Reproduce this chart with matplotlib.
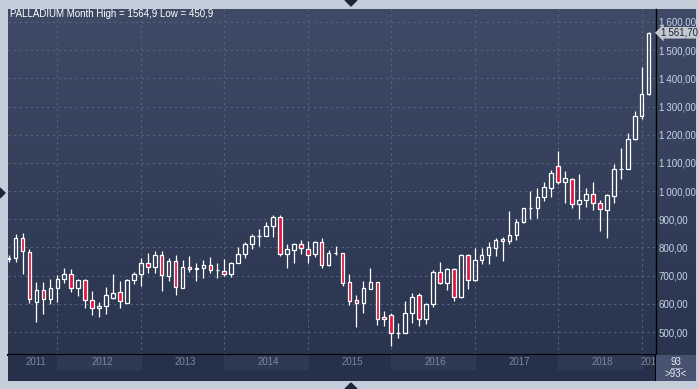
import numpy as np
import matplotlib
matplotlib.use("Agg")
import matplotlib.pyplot as plt
from matplotlib.colors import LinearSegmentedColormap
from matplotlib.patches import Polygon

plt.rcParams['font.family'] = ['Liberation Sans', 'DejaVu Sans']

W, H = 698, 389

# monthly candles, Jun 2011 .. Feb 2019 (93 bars)
opens = [758, 761, 832, 783, 607, 648, 616, 655, 687, 705, 655, 684, 612, 584, 591, 622,
         641, 604, 683, 705, 744, 729, 772, 700, 751, 657, 729, 722, 726, 736, 719, 716,
         705, 744, 776, 811, 839, 842, 875, 907, 776, 792, 811, 795, 776, 818, 736, 779,
         779, 676, 612, 602, 653, 676, 553, 560, 495, 495, 566, 630, 545, 598, 713, 673,
         723, 623, 773, 683, 754, 772, 798, 829, 822, 843, 889, 939, 939, 980, 1010, 1088,
         1031, 1042, 953, 967, 988, 956, 932, 981, 1077, 1079, 1184, 1266, 1343]
highs = [775, 848, 852, 794, 678, 678, 688, 702, 727, 722, 689, 689, 645, 606, 660, 706,
         680, 689, 714, 761, 779, 786, 787, 761, 772, 755, 770, 744, 755, 765, 745, 759,
         748, 800, 819, 848, 865, 890, 914, 915, 811, 815, 825, 822, 823, 832, 791, 805,
         781, 706, 631, 682, 727, 678, 574, 567, 531, 611, 639, 637, 602, 720, 749, 727,
         727, 777, 777, 798, 798, 819, 833, 836, 929, 900, 941, 1000, 1010, 1033, 1075, 1142,
         1071, 1045, 1061, 1011, 1032, 968, 988, 1096, 1152, 1205, 1285, 1440, 1564.9]
lows = [750, 749, 706, 604, 536, 565, 600, 607, 675, 641, 629, 584, 561, 554, 565, 618,
        586, 604, 671, 663, 710, 710, 646, 680, 630, 657, 714, 682, 693, 709, 693, 697,
        696, 744, 763, 794, 805, 842, 838, 768, 728, 746, 776, 745, 767, 726, 733, 772,
        664, 597, 519, 568, 651, 525, 522, 450.9, 480, 495, 533, 522, 528, 590, 669, 650,
        611, 619, 653, 681, 742, 742, 770, 752, 812, 827, 888, 901, 905, 964, 980, 1024,
        959, 939, 900, 945, 933, 859, 834, 957, 1044, 1077, 1181, 1257, 1340]
closes = [762, 832, 787, 616, 648, 616, 655, 687, 705, 655, 684, 612, 584, 592, 630, 637,
          609, 684, 705, 744, 729, 772, 701, 751, 658, 729, 722, 727, 736, 719, 720, 705,
          744, 776, 811, 839, 842, 875, 907, 776, 793, 811, 797, 772, 819, 736, 779, 780,
          675, 611, 602, 655, 676, 545, 545, 497, 498, 566, 623, 545, 598, 713, 673, 723,
          623, 773, 683, 755, 773, 800, 828, 822, 843, 889, 939, 940, 980, 1013, 1063, 1031,
          1045, 953, 967, 988, 956, 935, 985, 1077, 1080, 1184, 1266, 1343, 1561.7]

years = ['2011', '2012', '2013', '2014', '2015', '2016', '2017', '2018', '2019']
jan_index = [-5, 7, 19, 31, 43, 55, 67, 79, 91]
price_ticks = [500, 600, 700, 800, 900, 1000, 1100, 1200, 1300, 1400, 1500, 1600]
title = "PALLADIUM Month High = 1564,9 Low = 450,9"
last_price = 1561.70
bar_count = "93"

XMIN, XMAX = -0.09, 93.06
YMIN, YMAX = 418.4, 1646.1


def fmt(v):
    s = f"{v:,.2f}"
    return s.replace(",", "\u2009").replace(".", ",")


fig = plt.figure(figsize=(W / 100, H / 100), dpi=100, facecolor='#c4cedb')


def px_axes(x0, y0, x1, y1):
    return fig.add_axes([x0 / W, 1 - y1 / H, (x1 - x0) / W, (y1 - y0) / H])


# gradient panel behind price area and right scale
bg = px_axes(8, 9, 696, 355)
cmap = LinearSegmentedColormap.from_list('bg', ['#3f4b66', '#29344f'])
bg.imshow(np.linspace(0, 1, 256).reshape(-1, 1), cmap=cmap, aspect='auto',
          extent=[0, 1, 0, 1], origin='upper')
bg.axis('off')

ax = px_axes(8, 9, 656, 355)
ax.set_facecolor('none')
ax.set_xlim(XMIN, XMAX)
ax.set_ylim(YMIN, YMAX)
ax.set_yticks(price_ticks)
ax.set_yticklabels([fmt(v) for v in price_ticks])
ax.set_xticks(jan_index[1:])
ax.yaxis.tick_right()
ax.tick_params(axis='y', length=0, pad=2, labelsize=7, labelcolor='#c6d4ea')
ax.tick_params(axis='x', length=0, labelbottom=False)
for lab in ax.get_yticklabels():
    lab.set_horizontalalignment('left')
ax.grid(True, color='#56637e', linestyle=(0, (2, 3)), linewidth=0.8)
ax.set_axisbelow(True)
for s in ['left', 'top']:
    ax.spines[s].set_visible(False)
ax.spines['right'].set_color('black')
ax.spines['right'].set_linewidth(1.0)
ax.spines['bottom'].set_color('black')
ax.spines['bottom'].set_linewidth(1.5)

# candles
o = np.array(opens)
h = np.array(highs)
l = np.array(lows)
c = np.array(closes)
x = np.arange(len(o))
top = np.maximum(o, c)
bot = np.minimum(o, c)
ax.vlines(x, top, h, color='white', linewidth=0.9, zorder=3)
ax.vlines(x, l, bot, color='white', linewidth=0.9, zorder=3)
fills = ['none' if cc >= oo else '#e0173f' for oo, cc in zip(o, c)]
ax.bar(x, top - bot, bottom=bot, width=0.52, color=fills, edgecolor='white',
       linewidth=0.9, zorder=4)

# last price marker
ax.text(1.0077, last_price, fmt(last_price), transform=ax.get_yaxis_transform(),
        fontsize=7, color='#1c2333', va='center', ha='left', clip_on=False,
        bbox=dict(boxstyle='larrow,pad=0.08', fc='#c3c8d0', ec='none'))

# date band
axd = px_axes(8, 355, 656, 381)
axd.set_xlim(XMIN, XMAX)
axd.set_ylim(0, 1)
axd.axis('off')
axd.add_patch(plt.Rectangle((XMIN, 0), XMAX - XMIN, 1, color='#25304a', zorder=0))
for k, (yr, j) in enumerate(zip(years, jan_index)):
    a, b = max(j, XMIN), min(j + 12, XMAX)
    if k % 2 == 1:
        axd.axvspan(j, j + 12, ymin=0.46, ymax=1, color='#2e3954', zorder=1)
    axd.text((a + b) / 2 + 0.4, 0.72, yr, ha='center', va='center', fontsize=7,
             color='#7c879d', clip_on=True, zorder=2)
axd.axvline(XMAX, color='black', linewidth=1.5, zorder=3)

# bottom-right counter box
axb = px_axes(656, 355, 696, 381)
axb.set_xlim(0, 1)
axb.set_ylim(0, 1)
axb.axis('off')
axb.add_patch(plt.Rectangle((0, 0), 1, 1, color='#475270'))
axb.plot([0.38, 0.66], [0.5, 0.5], color='#a9b4c8', linewidth=0.6)
axb.text(0.5, 0.74, bar_count, ha='center', va='center', fontsize=7, color='#e4eaf3')
axb.text(0.5, 0.27, '>' + bar_count + '<', ha='center', va='center', fontsize=7,
         color='#e4eaf3')

fig.text(10 / W, 1 - 14 / H, title, color='white', fontsize=7, va='center')

# small navigation arrows on the frame
for pts in ([(345, 0), (357, 0), (351, 6)],
            [(345, 389), (357, 389), (351, 383)],
            [(0, 188), (0, 198), (5, 193)]):
    fig.patches.append(Polygon([(px / W, 1 - py / H) for px, py in pts],
                               closed=True, transform=fig.transFigure,
                               color='#1d2639'))

fig.savefig('out.png', dpi=100, facecolor=fig.get_facecolor())
